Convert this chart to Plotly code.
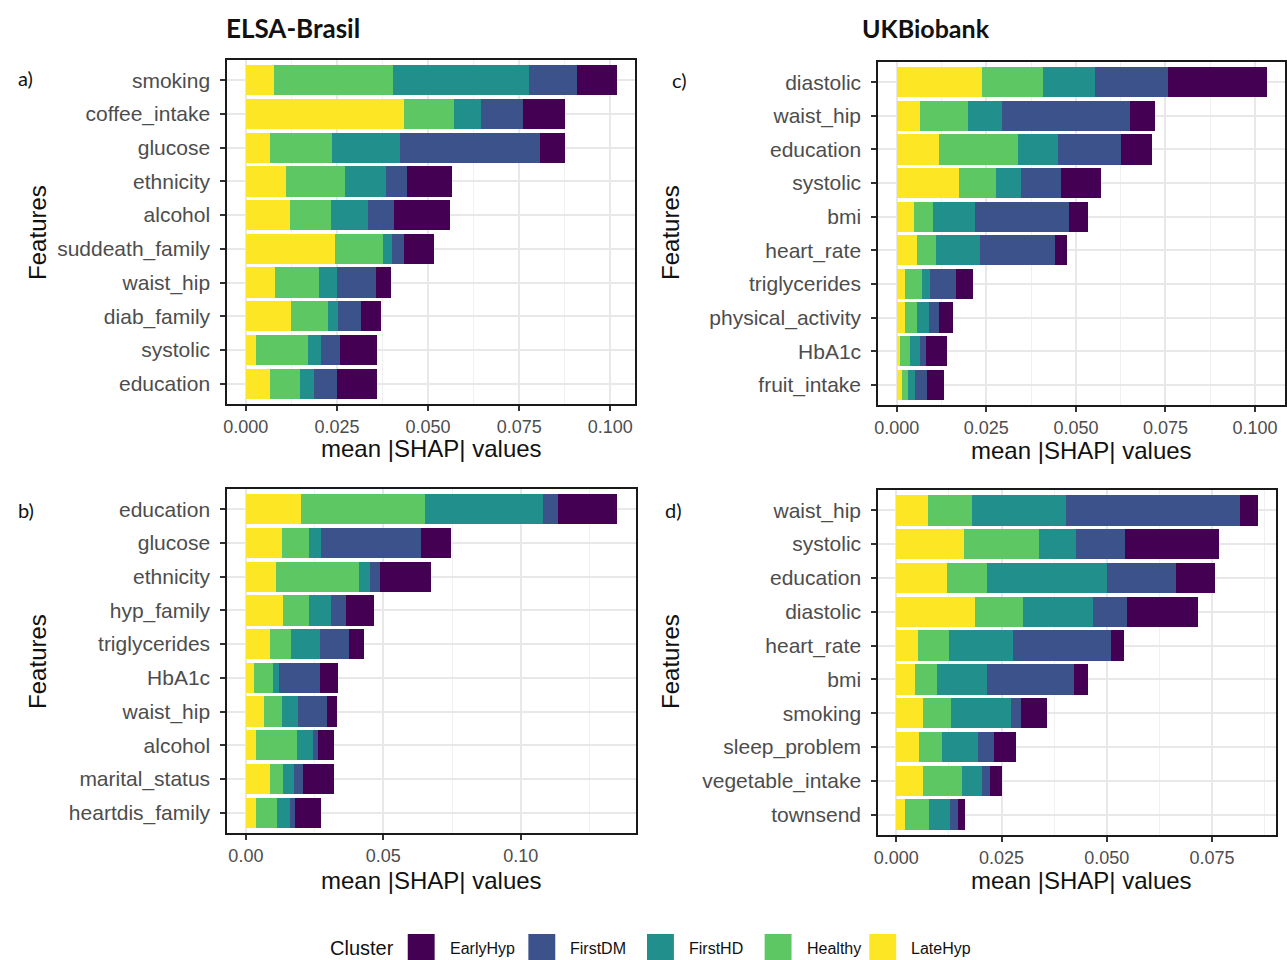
import plotly.graph_objects as go

# ---------------- data ----------------
clusters = ["LateHyp", "Healthy", "FirstHD", "FirstDM", "EarlyHyp"]  # stacking order (left -> right)
colors = {"EarlyHyp": "#440154", "FirstDM": "#3B528B", "FirstHD": "#21908C",
          "Healthy": "#5DC863", "LateHyp": "#FDE725"}
legend_order = ["EarlyHyp", "FirstDM", "FirstHD", "Healthy", "LateHyp"]

# Panel a) ELSA-Brasil
features_a = ["smoking", "coffee_intake", "glucose", "ethnicity", "alcohol",
              "suddeath_family", "waist_hip", "diab_family", "systolic", "education"]
a_latehyp  = [0.0078, 0.0433, 0.0067, 0.0109, 0.0121, 0.0245, 0.0081, 0.0124, 0.0027, 0.0067]
a_healthy  = [0.0326, 0.0139, 0.0170, 0.0164, 0.0112, 0.0131, 0.0121, 0.0102, 0.0144, 0.0081]
a_firsthd  = [0.0373, 0.0074, 0.0187, 0.0112, 0.0101, 0.0024, 0.0047, 0.0026, 0.0035, 0.0038]
a_firstdm  = [0.0132, 0.0114, 0.0383, 0.0058, 0.0072, 0.0034, 0.0108, 0.0063, 0.0051, 0.0063]
a_earlyhyp = [0.0108, 0.0115, 0.0070, 0.0123, 0.0155, 0.0082, 0.0042, 0.0057, 0.0103, 0.0111]

# Panel b) ELSA-Brasil
features_b = ["education", "glucose", "ethnicity", "hyp_family", "triglycerides",
              "HbA1c", "waist_hip", "alcohol", "marital_status", "heartdis_family"]
b_latehyp  = [0.0202, 0.0131, 0.0108, 0.0135, 0.0089, 0.0030, 0.0067, 0.0037, 0.0089, 0.0037]
b_healthy  = [0.0449, 0.0098, 0.0302, 0.0094, 0.0076, 0.0068, 0.0064, 0.0149, 0.0046, 0.0077]
b_firsthd  = [0.0431, 0.0046, 0.0040, 0.0079, 0.0104, 0.0022, 0.0059, 0.0059, 0.0040, 0.0048]
b_firstdm  = [0.0052, 0.0361, 0.0037, 0.0055, 0.0108, 0.0149, 0.0104, 0.0019, 0.0032, 0.0018]
b_earlyhyp = [0.0218, 0.0110, 0.0186, 0.0102, 0.0051, 0.0067, 0.0037, 0.0055, 0.0112, 0.0095]

# Panel c) UKBiobank
features_c = ["diastolic", "waist_hip", "education", "systolic", "bmi",
              "heart_rate", "triglycerides", "physical_activity", "HbA1c", "fruit_intake"]
c_latehyp  = [0.0239, 0.0065, 0.0117, 0.0175, 0.0049, 0.0057, 0.0023, 0.0023, 0.0010, 0.0015]
c_healthy  = [0.0170, 0.0133, 0.0220, 0.0103, 0.0052, 0.0052, 0.0047, 0.0034, 0.0028, 0.0015]
c_firsthd  = [0.0143, 0.0096, 0.0112, 0.0068, 0.0117, 0.0122, 0.0023, 0.0032, 0.0028, 0.0020]
c_firstdm  = [0.0204, 0.0357, 0.0178, 0.0113, 0.0262, 0.0212, 0.0071, 0.0028, 0.0015, 0.0035]
c_earlyhyp = [0.0276, 0.0070, 0.0085, 0.0110, 0.0054, 0.0032, 0.0050, 0.0039, 0.0059, 0.0047]

# Panel d) UKBiobank
features_d = ["waist_hip", "systolic", "education", "diastolic", "heart_rate",
              "bmi", "smoking", "sleep_problem", "vegetable_intake", "townsend"]
d_latehyp  = [0.0074, 0.0160, 0.0120, 0.0186, 0.0051, 0.0044, 0.0064, 0.0054, 0.0064, 0.0021]
d_healthy  = [0.0105, 0.0180, 0.0095, 0.0114, 0.0073, 0.0053, 0.0066, 0.0054, 0.0092, 0.0057]
d_firsthd  = [0.0224, 0.0086, 0.0286, 0.0168, 0.0154, 0.0118, 0.0142, 0.0087, 0.0047, 0.0050]
d_firstdm  = [0.0414, 0.0117, 0.0164, 0.0080, 0.0231, 0.0206, 0.0024, 0.0036, 0.0019, 0.0018]
d_earlyhyp = [0.0042, 0.0223, 0.0091, 0.0169, 0.0031, 0.0034, 0.0062, 0.0053, 0.0029, 0.0016]

tickvals_a = [0.0, 0.025, 0.05, 0.075, 0.1]
tickvals_b = [0.0, 0.05, 0.1]
tickvals_c = [0.0, 0.025, 0.05, 0.075, 0.1]
tickvals_d = [0.0, 0.025, 0.05, 0.075]

# ---------------- layout constants ----------------
W, H = 1287, 960
FONT = "Liberation Sans, Arial, sans-serif"
TITLE_FONT = "Lato, Open Sans, sans-serif"

panels = [
    # key, features, series, tickvals, fmt, minor dtick, pixel box (x0, x1, y0, y1)
    ("a", features_a, [a_latehyp, a_healthy, a_firsthd, a_firstdm, a_earlyhyp], tickvals_a, ".3f", 0.0125, (224, 633, 60, 404)),
    ("b", features_b, [b_latehyp, b_healthy, b_firsthd, b_firstdm, b_earlyhyp], tickvals_b, ".2f", 0.025, (224, 634, 489, 833)),
    ("c", features_c, [c_latehyp, c_healthy, c_firsthd, c_firstdm, c_earlyhyp], tickvals_c, ".3f", 0.0125, (877, 1285, 62, 405)),
    ("d", features_d, [d_latehyp, d_healthy, d_firsthd, d_firstdm, d_earlyhyp], tickvals_d, ".3f", 0.0125, (877, 1276, 490, 835)),
]

fig = go.Figure()
layout_axes = {}
for i, (key, feats, series, tv, fmt, mdt, box) in enumerate(panels):
    n = i + 1
    xa = "x" if n == 1 else f"x{n}"
    ya = "y" if n == 1 else f"y{n}"
    for cl, vals in zip(clusters, series):
        fig.add_trace(go.Bar(
            x=vals, y=feats, orientation="h", name=cl,
            marker=dict(color=colors[cl], line=dict(width=0)),
            xaxis=xa, yaxis=ya, showlegend=False,
        ))
    totals = [sum(v) for v in zip(*series)]
    mx = max(totals)
    x0, x1, y0, y1 = box
    xname = "xaxis" if n == 1 else f"xaxis{n}"
    yname = "yaxis" if n == 1 else f"yaxis{n}"
    layout_axes[xname] = dict(
        domain=[x0 / W, x1 / W], anchor=ya,
        range=[-0.05 * mx, 1.05 * mx],
        tickvals=tv, tickformat=fmt,
        showgrid=True, gridcolor="#E8E8E8", gridwidth=1.5,
        minor=dict(dtick=mdt, tick0=0, showgrid=True, gridcolor="#F0F0F0", gridwidth=1),
        zeroline=False,
        showline=True, mirror=True, linecolor="#1a1a1a", linewidth=2,
        ticks="outside", ticklen=5, tickwidth=1.5, tickcolor="#333333",
        tickfont=dict(family=FONT, size=18, color="#4D4D4D"),
        fixedrange=True,
    )
    layout_axes[yname] = dict(
        domain=[1 - y1 / H, 1 - y0 / H], anchor=xa,
        type="category", categoryorder="array", categoryarray=feats[::-1],
        range=[-0.6, len(feats) - 0.4],
        showgrid=True, gridcolor="#E8E8E8", gridwidth=1.5,
        zeroline=False,
        showline=True, mirror=True, linecolor="#1a1a1a", linewidth=2,
        ticks="outside", ticklen=5, tickwidth=1.5, tickcolor="#333333",
        tickfont=dict(family=FONT, size=21, color="#4D4D4D"),
        ticklabelstandoff=6,
        fixedrange=True,
    )

annotations = []
# Panel titles
annotations.append(dict(text="<b>ELSA-Brasil</b>", x=221 / W, y=1 - 28 / H, xref="paper", yref="paper",
                        xanchor="left", yanchor="middle", showarrow=False,
                        font=dict(family=TITLE_FONT, size=26, color="#111111")))
annotations.append(dict(text="<b>UKBiobank</b>", x=859 / W, y=1 - 28 / H, xref="paper", yref="paper",
                        xanchor="left", yanchor="middle", showarrow=False,
                        font=dict(family=TITLE_FONT, size=25, color="#111111")))
# Panel letters
for lab, px, py in [("a)", 22, 78), ("b)", 22, 510), ("c)", 678, 80), ("d)", 672, 510)]:
    annotations.append(dict(text=lab, x=px / W, y=1 - py / H, xref="paper", yref="paper",
                            xanchor="center", yanchor="middle", showarrow=False,
                            font=dict(family=TITLE_FONT, size=20, color="#111111")))
# Axis titles
for px, py in [(429, 448), (429, 880), (1081, 450), (1081, 880)]:
    annotations.append(dict(text="mean |SHAP| values", x=px / W, y=1 - py / H, xref="paper", yref="paper",
                            xanchor="center", yanchor="middle", showarrow=False,
                            font=dict(family=FONT, size=24, color="#111111")))
for px, py in [(33, 232), (33, 661), (668, 232), (668, 661)]:
    annotations.append(dict(text="Features", x=px / W, y=1 - py / H, xref="paper", yref="paper",
                            xanchor="center", yanchor="middle", showarrow=False, textangle=-90,
                            font=dict(family=FONT, size=24, color="#111111")))

# Legend (drawn manually to match ggplot key size)
shapes = []
annotations.append(dict(text="Cluster", x=325 / W, y=1 - 948 / H, xref="paper", yref="paper",
                        xanchor="left", yanchor="middle", showarrow=False,
                        font=dict(family=FONT, size=20, color="#111111")))
key_left = [405, 526, 645, 763, 868]
for cl, kx in zip(legend_order, key_left):
    shapes.append(dict(type="rect", xref="paper", yref="paper",
                       x0=kx / W, x1=(kx + 27) / W, y0=1 - 962 / H, y1=1 - 934 / H,
                       fillcolor=colors[cl], line=dict(width=0)))
    annotations.append(dict(text=cl, x=(kx + 40) / W, y=1 - 948 / H, xref="paper", yref="paper",
                            xanchor="left", yanchor="middle", showarrow=False,
                            font=dict(family=FONT, size=16, color="#111111")))

fig.update_layout(
    width=W, height=H,
    margin=dict(l=0, r=0, t=0, b=0),
    paper_bgcolor="white", plot_bgcolor="white",
    barmode="stack", bargap=0.1,
    showlegend=False,
    annotations=annotations, shapes=shapes,
    **layout_axes,
)

fig.write_html("out.html", config={"displayModeBar": False},
               post_script="document.body.style.margin='0';document.body.style.overflow='hidden';")
